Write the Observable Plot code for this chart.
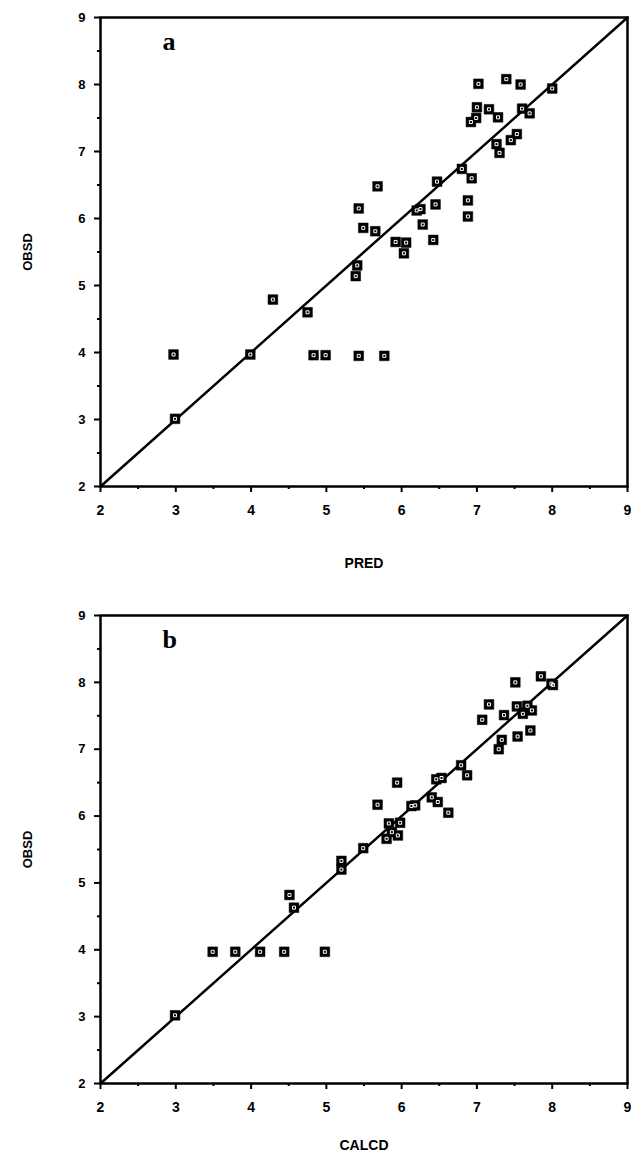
<!DOCTYPE html>
<html>
<head>
<meta charset="utf-8">
<script src="https://cdn.jsdelivr.net/npm/d3@7"></script>
<script src="https://cdn.jsdelivr.net/npm/@observablehq/plot@0.6"></script>
<style>
  body { margin: 0; background: #fff; }
  #wrap { width: 631px; }
  svg { display: block; }
</style>
</head>
<body>
<div id="wrap"></div>
<script>
// Panel a: predicted vs observed
const predA = [7.02, 7.39, 7.58, 8.00, 7.00, 7.16, 7.28, 6.99, 6.92, 7.60, 7.70, 7.53, 7.45, 7.26, 7.30,
  6.80, 6.93, 5.68, 6.47, 5.43, 6.25, 6.20, 6.45, 6.88, 6.88, 5.49, 5.65, 6.28, 6.42, 5.92, 6.06, 6.03,
  5.41, 5.39, 4.29, 4.75, 2.97, 3.99, 4.83, 4.99, 5.43, 5.77, 2.99];
const obsA = [8.01, 8.08, 8.00, 7.94, 7.66, 7.63, 7.51, 7.50, 7.44, 7.64, 7.57, 7.26, 7.17, 7.11, 6.98,
  6.74, 6.60, 6.48, 6.55, 6.15, 6.14, 6.12, 6.21, 6.27, 6.03, 5.86, 5.81, 5.91, 5.68, 5.65, 5.64, 5.48,
  5.30, 5.14, 4.79, 4.60, 3.97, 3.97, 3.96, 3.96, 3.95, 3.95, 3.01];

// Panel b: calculated vs observed
const calcB = [7.85, 7.99, 8.01, 7.51, 7.16, 7.07, 7.36, 7.53, 7.67, 7.61, 7.73, 7.71, 7.54, 7.33, 7.29,
  6.79, 6.87, 6.53, 6.46, 5.94, 6.40, 6.48, 6.62, 6.13, 6.18, 5.68, 5.83, 5.98, 5.80, 5.95, 5.87,
  5.49, 5.20, 5.20, 4.51, 4.57, 3.49, 3.79, 4.12, 4.44, 4.98, 2.99];
const obsB = [8.09, 7.98, 7.96, 8.00, 7.67, 7.44, 7.51, 7.64, 7.65, 7.53, 7.58, 7.28, 7.19, 7.14, 7.00,
  6.76, 6.61, 6.57, 6.55, 6.50, 6.28, 6.21, 6.05, 6.15, 6.16, 6.17, 5.89, 5.90, 5.66, 5.71, 5.76,
  5.52, 5.33, 5.20, 4.82, 4.63, 3.97, 3.97, 3.97, 3.97, 3.97, 3.02];

const majorTicks = [2, 3, 4, 5, 6, 7, 8, 9];
const minorTicks = [2.5, 3.5, 4.5, 5.5, 6.5, 7.5, 8.5];
const diagonal = [2, 9];

function panel(xs, ys, letter, xLabel, height, mTop, mBottom, xLabelOffset) {
  const data = xs.map((x, i) => ({x, y: ys[i]}));
  return Plot.plot({
    width: 631,
    height,
    marginLeft: 100,
    marginRight: 4,
    marginTop: mTop,
    marginBottom: mBottom,
    style: {fontFamily: "'Liberation Sans', Arial, sans-serif", fontSize: "14px", fontWeight: "bold", color: "#000", background: "#fff"},
    x: {domain: [2, 9]},
    y: {domain: [2, 9]},
    marks: [
      Plot.frame({stroke: "#000", strokeWidth: 2.5}),
      Plot.axisX({ticks: majorTicks, tickFormat: d3.format("d"), tickSize: 6, tickPadding: 13, strokeWidth: 2, label: xLabel,
        labelAnchor: "center", labelArrow: "none", labelOffset: xLabelOffset, fontSize: 14}),
      Plot.axisX({ticks: minorTicks, tickSize: 3, strokeWidth: 2, text: null, label: null}),
      Plot.axisY({ticks: majorTicks, tickFormat: d3.format("d"), tickSize: 6, tickPadding: 9, strokeWidth: 2, label: "OBSD",
        labelAnchor: "center", labelArrow: "none", labelOffset: 78, fontSize: 13}),
      Plot.axisY({ticks: minorTicks, tickSize: 3, strokeWidth: 2, text: null, label: null}),
      Plot.line(diagonal.map(v => ({x: v, y: v})), {x: "x", y: "y", stroke: "#000", strokeWidth: 2.5}),
      Plot.dot(data, {x: "x", y: "y", symbol: "square", r: 5.5, fill: "#000", stroke: "#000", strokeWidth: 0.5}),
      Plot.dot(data, {x: "x", y: "y", symbol: "square", r: 1.7, fill: "none", stroke: "#fff", strokeWidth: 1}),
      Plot.text([letter], {frameAnchor: "top-left", dx: 62, dy: 14, fontSize: 26, fontWeight: "bold",
        fontFamily: "'Liberation Serif', 'DejaVu Serif', serif", fill: "#000"})
    ]
  });
}

const wrap = document.getElementById("wrap");
wrap.append(panel(predA, obsA, "a", "PRED", 600, 17, 114, 81));
wrap.append(panel(calcB, obsB, "b", "CALCD", 561, 15, 78, 66));
</script>
</body>
</html>
